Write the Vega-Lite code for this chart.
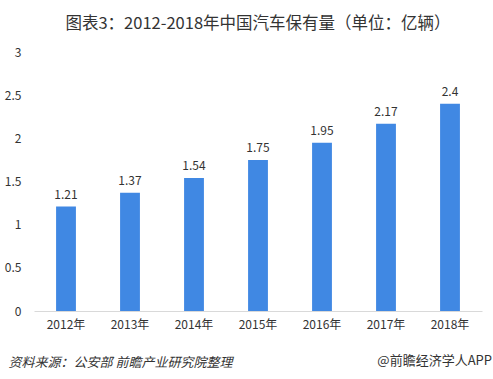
{
  "$schema": "https://vega.github.io/schema/vega-lite/v6.json",
  "width": 448,
  "height": 259,
  "padding": {"left": 34, "top": 52, "right": 11, "bottom": 68},
  "autosize": {"type": "none"},
  "background": "white",
  "config": {
    "view": {"stroke": null},
    "font": "Noto Sans CJK SC"
  },
  "title": {
    "text": "图表3：2012-2018年中国汽车保有量（单位：亿辆）",
    "fontSize": 16.5,
    "fontWeight": "normal",
    "color": "#333333",
    "anchor": "middle",
    "offset": 14,
    "font": "Noto Sans CJK SC"
  },
  "data": {
    "values": [
      {"year": "2012年", "value": 1.21},
      {"year": "2013年", "value": 1.37},
      {"year": "2014年", "value": 1.54},
      {"year": "2015年", "value": 1.75},
      {"year": "2016年", "value": 1.95},
      {"year": "2017年", "value": 2.17},
      {"year": "2018年", "value": 2.4}
    ]
  },
  "encoding": {
    "x": {
      "field": "year",
      "type": "nominal",
      "sort": null,
      "scale": {"paddingInner": 0.69, "paddingOuter": 0.345},
      "axis": {
        "labelAngle": 0,
        "labelFontSize": 12,
        "labelColor": "#333333",
        "labelPadding": 8,
        "ticks": false,
        "domainColor": "#d9d9d9",
        "title": "资料来源：公安部 前瞻产业研究院整理",
        "titleFontSize": 13,
        "titleFontWeight": "normal",
        "titleFontStyle": "italic",
        "titleColor": "#333333",
        "titleAnchor": "start",
        "titleAlign": "left",
        "titleX": -26,
        "titlePadding": 26
      }
    },
    "y": {
      "field": "value",
      "type": "quantitative",
      "scale": {"domain": [0, 3]},
      "axis": {
        "values": [0, 0.5, 1, 1.5, 2, 2.5, 3],
        "format": "~g",
        "grid": false,
        "domain": false,
        "ticks": false,
        "labelFontSize": 12,
        "labelColor": "#333333",
        "labelPadding": 13,
        "title": null
      }
    }
  },
  "layer": [
    {"mark": {"type": "bar", "color": "#4088E3"}},
    {
      "mark": {"type": "text", "dy": -12, "fontSize": 12, "color": "#333333"},
      "encoding": {"text": {"field": "value", "type": "quantitative"}}
    },
    {
      "data": {"values": [{"label": "@前瞻经济学人APP", "year": "2018年", "pos": -0.58}]},
      "mark": {"type": "text", "align": "right", "dx": 42, "fontSize": 13, "color": "#333333", "clip": false},
      "encoding": {
        "x": {"field": "year", "type": "nominal"},
        "y": {"field": "pos", "type": "quantitative"},
        "text": {"field": "label"}
      }
    }
  ]
}
